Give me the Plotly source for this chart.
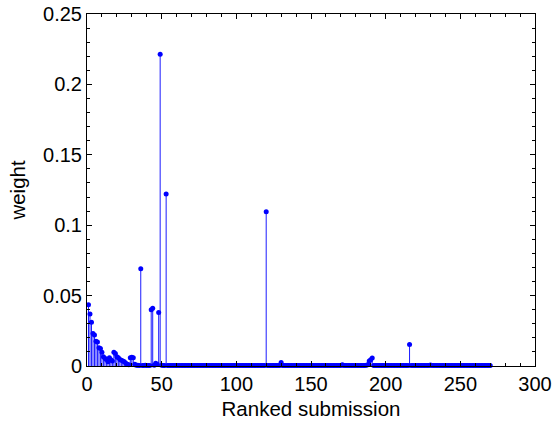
import plotly.graph_objects as go

# Ranked submissions (1..270) and their ensemble weights
ranks = list(range(1, 271))
weights = [
    0.0435, 0.0370, 0.0310, 0.0230, 0.0220, 0.0175, 0.0170, 0.0130, 0.0125, 0.0098,
    0.0065, 0.0055, 0.0046, 0.0030, 0.0058, 0.0045, 0.0035, 0.0098, 0.0089, 0.0065,
    0.0058, 0.0046, 0.0040, 0.0035, 0.0030, 0.0020, 0.0012, 0.0008, 0.0058, 0.0062,
    0.0058, 0.0012, 0.0006, 0.0005, 0.0004, 0.0690, 0.0004, 0.0003, 0.0005, 0.0004,
    0.0003, 0.0004, 0.0400, 0.0410, 0.0005, 0.0020, 0.0012, 0.0380, 0.2215, 0.0005,
    0.0004, 0.0003, 0.1222, 0.0004, 0.0003, 0.0004, 0.0003, 0.0003, 0.0004, 0.0003,
    0.0003, 0.0004, 0.0003, 0.0003, 0.0004, 0.0003, 0.0003, 0.0003, 0.0004, 0.0003,
    0.0003, 0.0003, 0.0004, 0.0003, 0.0003, 0.0003, 0.0004, 0.0003, 0.0003, 0.0003,
    0.0003, 0.0004, 0.0003, 0.0003, 0.0003, 0.0003, 0.0004, 0.0003, 0.0003, 0.0003,
    0.0003, 0.0003, 0.0004, 0.0003, 0.0003, 0.0003, 0.0003, 0.0004, 0.0003, 0.0003,
    0.0003, 0.0003, 0.0003, 0.0004, 0.0003, 0.0003, 0.0003, 0.0003, 0.0003, 0.0004,
    0.0003, 0.0003, 0.0003, 0.0003, 0.0003, 0.0003, 0.0003, 0.0003, 0.0003, 0.1096,
    0.0003, 0.0003, 0.0003, 0.0003, 0.0003, 0.0003, 0.0003, 0.0003, 0.0004, 0.0025,
    0.0003, 0.0003, 0.0003, 0.0004, 0.0003, 0.0003, 0.0003, 0.0003, 0.0003, 0.0003,
    0.0003, 0.0004, 0.0003, 0.0003, 0.0003, 0.0003, 0.0003, 0.0004, 0.0003, 0.0003,
    0.0003, 0.0003, 0.0003, 0.0003, 0.0004, 0.0003, 0.0003, 0.0003, 0.0003, 0.0003,
    0.0003, 0.0003, 0.0004, 0.0003, 0.0003, 0.0003, 0.0003, 0.0003, 0.0003, 0.0003,
    0.0009, 0.0003, 0.0003, 0.0003, 0.0004, 0.0003, 0.0003, 0.0003, 0.0003, 0.0003,
    0.0003, 0.0003, 0.0003, 0.0004, 0.0003, 0.0003, 0.0005, 0.0008, 0.0035, 0.0045,
    0.0057, 0.0004, 0.0003, 0.0003, 0.0003, 0.0003, 0.0003, 0.0004, 0.0003, 0.0003,
    0.0003, 0.0003, 0.0004, 0.0003, 0.0003, 0.0003, 0.0003, 0.0003, 0.0004, 0.0003,
    0.0003, 0.0003, 0.0003, 0.0003, 0.0003, 0.0152, 0.0003, 0.0003, 0.0004, 0.0003,
    0.0003, 0.0003, 0.0003, 0.0003, 0.0004, 0.0003, 0.0003, 0.0003, 0.0003, 0.0007,
    0.0004, 0.0003, 0.0003, 0.0003, 0.0003, 0.0003, 0.0004, 0.0003, 0.0003, 0.0003,
    0.0003, 0.0003, 0.0003, 0.0004, 0.0003, 0.0003, 0.0003, 0.0003, 0.0003, 0.0003,
    0.0004, 0.0003, 0.0003, 0.0003, 0.0003, 0.0003, 0.0003, 0.0004, 0.0003, 0.0003,
    0.0003, 0.0003, 0.0003, 0.0003, 0.0004, 0.0003, 0.0003, 0.0003, 0.0003, 0.0003,
]

x_ticks = [0, 50, 100, 150, 200, 250, 300]
y_ticks = [0, 0.05, 0.1, 0.15, 0.2, 0.25]
y_tick_text = ["0", "0.05", "0.1", "0.15", "0.2", "0.25"]

BLUE = "rgb(0,0,255)"
FONT = "Liberation Sans, Arial, Helvetica, sans-serif"

# stems: vertical segment from 0 up to each weight
stem_x, stem_y = [], []
for r, w in zip(ranks, weights):
    stem_x += [r, r, None]
    stem_y += [0, w, None]

fig = go.Figure()
fig.add_trace(go.Scatter(
    x=stem_x, y=stem_y, mode="lines",
    line=dict(color=BLUE, width=0.9), hoverinfo="skip", showlegend=False,
))
fig.add_trace(go.Scatter(
    x=ranks, y=weights, mode="markers",
    marker=dict(color=BLUE, size=5, line=dict(width=0)),
    cliponaxis=False, showlegend=False,
))

axis_common = dict(
    showline=True, linecolor="black", linewidth=1, mirror="allticks",
    ticks="inside", ticklen=5, tickwidth=1, tickcolor="black",
    showgrid=False, zeroline=False, automargin=False,
    tickfont=dict(family=FONT, size=20, color="black"),
)

fig.update_xaxes(
    range=[0, 300], tickvals=x_ticks,
    minor=dict(dtick=10, ticks="inside", ticklen=3, tickcolor="black", showgrid=False),
    title=dict(text="Ranked submission", font=dict(family=FONT, size=20.5, color="black"), standoff=7),
    **axis_common,
)
fig.update_yaxes(
    range=[0, 0.25], tickvals=y_ticks, ticktext=y_tick_text,
    minor=dict(dtick=0.01, ticks="inside", ticklen=3, tickcolor="black", showgrid=False),
    title=dict(text="weight", font=dict(family=FONT, size=20.5, color="black"), standoff=11),
    **axis_common,
)

fig.update_layout(
    width=555, height=423,
    margin=dict(l=87, r=20, t=14, b=57),
    paper_bgcolor="white", plot_bgcolor="white",
    font=dict(family=FONT, color="black"),
)

fig.write_html("out.html")
